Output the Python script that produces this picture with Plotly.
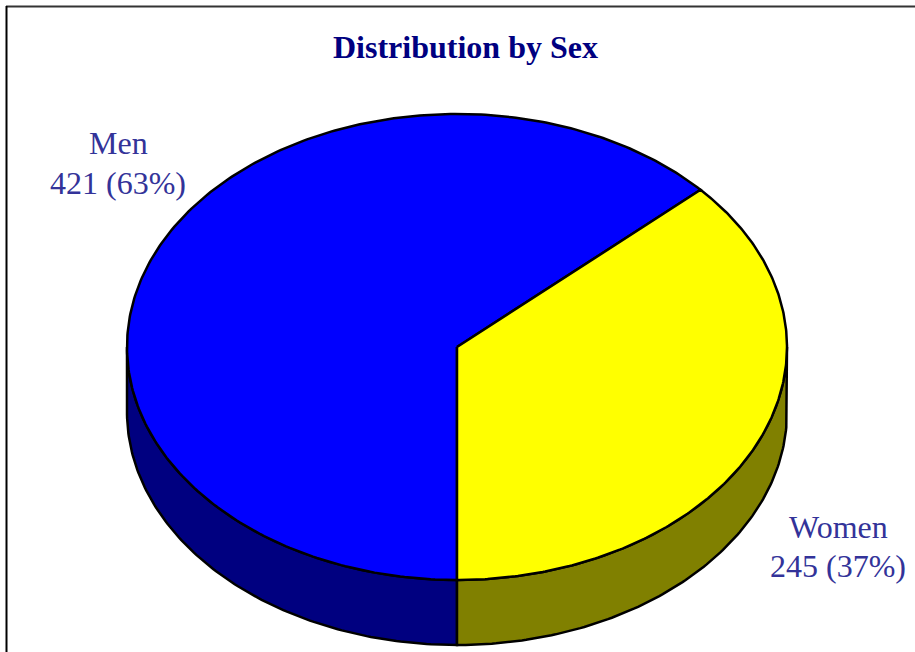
import numpy as np
import plotly.graph_objects as go

categories = ["Men", "Women"]
values = [421, 245]
top_colors = ["#0000FF", "#FFFF00"]
side_colors = ["#000080", "#808000"]
title_text = "Distribution by Sex"

W, H = 915, 652
cx, cy, rx, ry, depth = 457, 347, 330, 233, 65

total = sum(values)
# Women slice starts at bottom (270 deg) and runs counter-clockwise; Men takes the rest
women_span = 360.0 * values[1] / total
women_start = 270.0
women_end = 270.0 + women_span
men_start = women_end - 360.0
men_end = 270.0
slices = {"Men": (men_start, men_end), "Women": (women_start, women_end)}
visible_side = {"Men": (180.0, men_end), "Women": (women_start, 360.0)}

def pt(theta_deg, dz=0.0):
    t = np.radians(theta_deg)
    return cx + rx * np.cos(t), cy - ry * np.sin(t) + dz

fig = go.Figure()

# side walls (front half only)
for i, name in enumerate(categories):
    lo, hi = visible_side[name]
    ts = np.linspace(lo, hi, 120)
    xs_top, ys_top = pt(ts)
    xs_bot, ys_bot = pt(ts[::-1], depth)
    xs = np.concatenate([xs_top, xs_bot, xs_top[:1]])
    ys = np.concatenate([ys_top, ys_bot, ys_top[:1]])
    fig.add_trace(go.Scatter(x=xs, y=ys, mode="lines", fill="toself",
                             fillcolor=side_colors[i],
                             line=dict(color="black", width=2.5),
                             hoverinfo="skip", showlegend=False))

# top faces
for i, name in enumerate(categories):
    a1, a2 = slices[name]
    ts = np.linspace(a1, a2, 300)
    xa, ya = pt(ts)
    xs = np.concatenate([[cx], xa, [cx]])
    ys = np.concatenate([[cy], ya, [cy]])
    fig.add_trace(go.Scatter(x=xs, y=ys, mode="lines", fill="toself",
                             fillcolor=top_colors[i],
                             line=dict(color="black", width=2.5),
                             hoverinfo="skip", showlegend=False,
                             name=name))

label_pos = {"Men": (118, 143, 183), "Women": (838, 527, 566)}
lab_font = dict(family="Liberation Serif", size=32, color="#333399")
for name, v in zip(categories, values):
    pct = round(100 * v / total)
    lx, ly1, ly2 = label_pos[name]
    fig.add_annotation(x=lx, y=ly1, xref="x", yref="y", text=name, showarrow=False,
                       font=lab_font, xanchor="center", yanchor="middle")
    fig.add_annotation(x=lx, y=ly2, xref="x", yref="y", text=f"{v} ({pct}%)",
                       showarrow=False, font=lab_font, xanchor="center", yanchor="middle")

fig.add_annotation(x=465, y=47, xref="x", yref="y", text=f"<b>{title_text}</b>",
                   showarrow=False, xanchor="center", yanchor="middle",
                   font=dict(family="Liberation Serif", size=32, color="#000080"))

# frame
fig.add_shape(type="line", x0=6, x1=W, y0=6.5, y1=6.5, xref="x", yref="y",
              line=dict(color="#333333", width=2))
fig.add_shape(type="line", x0=6.5, x1=6.5, y0=6, y1=H, xref="x", yref="y",
              line=dict(color="black", width=2))

fig.update_xaxes(range=[0, W], visible=False, fixedrange=True)
fig.update_yaxes(range=[H, 0], visible=False, fixedrange=True)
fig.update_layout(width=W, height=H, margin=dict(l=0, r=0, t=0, b=0),
                  paper_bgcolor="white", plot_bgcolor="white")

fig.write_html("out.html", config={"displayModeBar": False},
               post_script="document.body.style.margin='0px';document.body.style.overflow='hidden';")
